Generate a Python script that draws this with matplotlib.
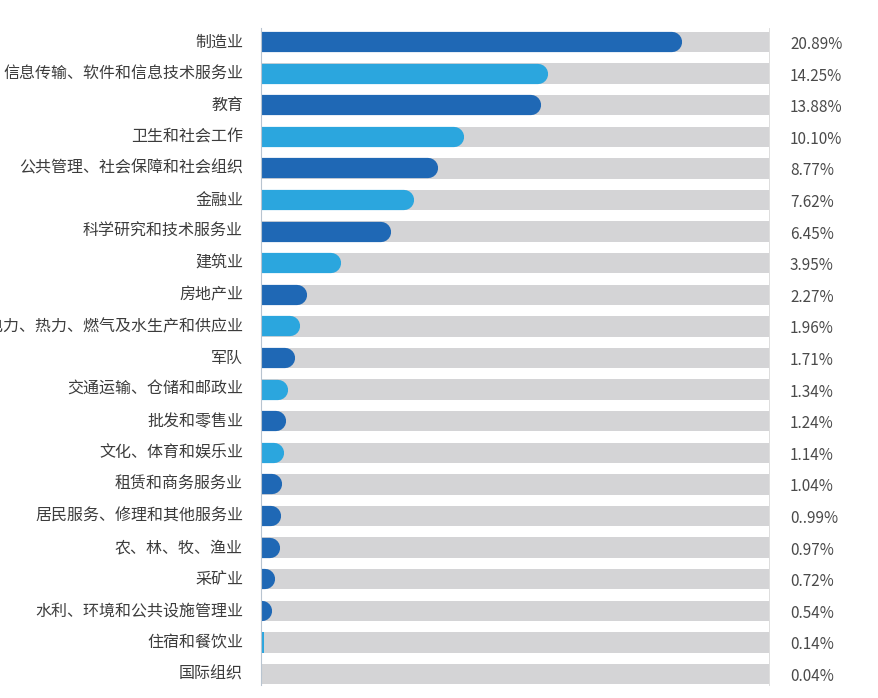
import matplotlib.pyplot as plt
import numpy as np

plt.rcParams['font.family'] = ['Noto Sans CJK SC', 'DejaVu Sans']

# 行业数据
industries = ["制造业", "信息传输、软件和信息技术服务业", "教育", "卫生和社会工作",
              "公共管理、社会保障和社会组织", "金融业", "科学研究和技术服务业", "建筑业",
              "房地产业", "电力、热力、燃气及水生产和供应业", "军队", "交通运输、仓储和邮政业",
              "批发和零售业", "文化、体育和娱乐业", "租赁和商务服务业", "居民服务、修理和其他服务业",
              "农、林、牧、渔业", "采矿业", "水利、环境和公共设施管理业", "住宿和餐饮业", "国际组织"]
values = [20.89, 14.25, 13.88, 10.10, 8.77, 7.62, 6.45, 3.95, 2.27, 1.96, 1.71,
          1.34, 1.24, 1.14, 1.04, 0.99, 0.97, 0.72, 0.54, 0.14, 0.04]
value_labels = ["20.89%", "14.25%", "13.88%", "10.10%", "8.77%", "7.62%", "6.45%",
                "3.95%", "2.27%", "1.96%", "1.71%", "1.34%", "1.24%", "1.14%", "1.04%",
                "0..99%", "0.97%", "0.72%", "0.54%", "0.14%", "0.04%"]
# 颜色：d=深蓝, l=浅蓝
shades = "dldldldldldldldddddld"

dark = "#1f68b5"
light = "#2ba6de"
track = "#d4d4d6"
xmax = 25.2

W, H = 879, 698
fig = plt.figure(figsize=(W / 100, H / 100), dpi=100)
# 轴区域：左 261px，右 769px，行中心 42px ~ 674px
n = len(industries)
step = (674 - 42) / (n - 1)
top = 42 - step / 2
bottom = 674 + step / 2
ax = fig.add_axes([261 / W, 1 - bottom / H, (769 - 261) / W, (bottom - top) / H])
ax.set_xlim(0, xmax)
ax.set_ylim(n - 0.5, -0.5)
ax.axis('off')

y = np.arange(n)
bar_h = 0.64
ax.barh(y, [xmax] * n, height=bar_h, color=track, edgecolor='none', zorder=1)

# 圆角条：用粗线 + 圆端
px_per_unit = (769 - 261) / xmax
bar_px = bar_h * step
lw = bar_px * 72 / 100
r = (bar_px / 2) / px_per_unit
for i, v in enumerate(values):
    c = dark if shades[i] == 'd' else light
    end = max(v - r, -r)
    ax.plot([-2, end], [i, i], color=c, lw=lw, solid_capstyle='round', zorder=2,
            clip_on=True)
    if v < 0.3:
        ax.barh(i, v, height=bar_h, color=c, edgecolor='none', zorder=2)

# 左侧细线和右侧细线
ax.plot([0, 0], [-0.45, n - 0.65], color="#b8c4d0", lw=0.8, clip_on=False, zorder=3)
ax.plot([xmax, xmax], [-0.45, n - 0.65], color="#d8d8d8", lw=0.6, clip_on=False, zorder=0)

for i, name in enumerate(industries):
    ax.text(-18 / px_per_unit, i, name, ha='right', va='center', fontsize=11.5,
            color="#3c3c3c", clip_on=False)
    ax.text(xmax + 21 / px_per_unit, i + 0.08, value_labels[i], ha='left', va='center',
            fontsize=11, color="#4a4a4a", clip_on=False)

fig.savefig("out.png", dpi=100, facecolor='white')
